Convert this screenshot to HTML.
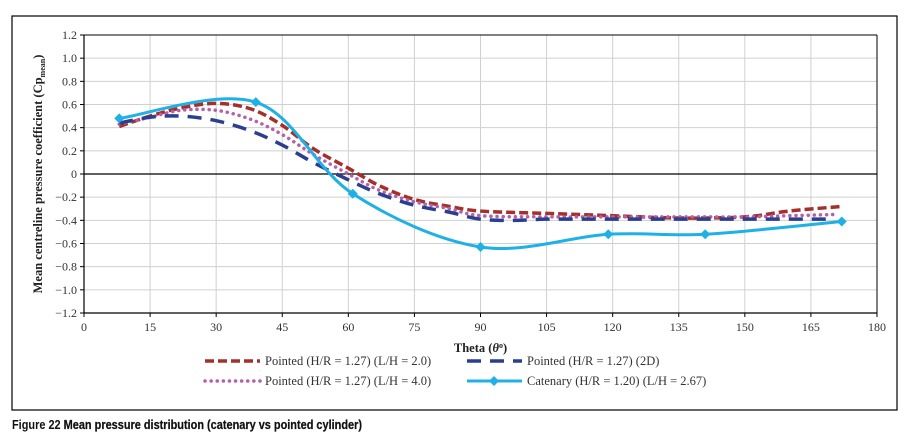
<!DOCTYPE html>
<html><head><meta charset="utf-8"><style>
body{margin:0;background:#fff;}
svg{display:block;font-family:"Liberation Serif",serif;}
</style></head><body>
<svg id="c" width="915" height="437"></svg>
<script>
const xTicks=[0,15,30,45,60,75,90,105,120,135,150,165,180];
const yTicks=[-1.2,-1.0,-0.8,-0.6,-0.4,-0.2,0,0.2,0.4,0.6,0.8,1.0,1.2];
const redTheta=[8,15,22,30,38,45,52,60,67,75,83,90,105,120,135,150,160,172];
const redCp=[0.41,0.5,0.57,0.61,0.56,0.42,0.22,0.05,-0.1,-0.22,-0.28,-0.32,-0.34,-0.36,-0.38,-0.37,-0.32,-0.28];
const blueTheta=[8,15,22,30,38,45,52,60,67,75,83,90,98,105,120,135,150,165,170];
const blueCp=[0.44,0.49,0.5,0.46,0.37,0.25,0.1,-0.05,-0.17,-0.27,-0.33,-0.39,-0.40,-0.39,-0.39,-0.39,-0.39,-0.39,-0.39];
const purpleTheta=[8,15,22,30,38,45,52,60,67,75,83,90,105,120,135,150,160,170];
const purpleCp=[0.43,0.49,0.55,0.55,0.47,0.34,0.17,0.0,-0.14,-0.24,-0.3,-0.36,-0.37,-0.37,-0.37,-0.37,-0.36,-0.35];
const catTheta=[8,39,61,90,119,141,172];
const catCp=[0.48,0.62,-0.17,-0.63,-0.52,-0.52,-0.41];

const NS='http://www.w3.org/2000/svg';
const svg=document.getElementById('c');
const L=84,R=877,T=35,B=313;
const X=v=>L+(v-0)/(180)*(R-L);
const Y=v=>B-(v+1.2)/2.4*(B-T);
function mk(t,a,p){const e=document.createElementNS(NS,t);for(const k in a)e.setAttribute(k,a[k]);(p||svg).appendChild(e);return e;}
function smooth(xs,ys){const P=xs.map((x,i)=>[X(x),Y(ys[i])]);let d='M'+P[0][0]+','+P[0][1];
for(let i=0;i<P.length-1;i++){const p0=P[Math.max(0,i-1)],p1=P[i],p2=P[i+1],p3=P[Math.min(P.length-1,i+2)];
const c1=[p1[0]+(p2[0]-p0[0])/6,p1[1]+(p2[1]-p0[1])/6],c2=[p2[0]-(p3[0]-p1[0])/6,p2[1]-(p3[1]-p1[1])/6];
d+=' C'+c1[0]+','+c1[1]+' '+c2[0]+','+c2[1]+' '+p2[0]+','+p2[1];}return d;}

let e=mk('rect',{x:12,y:16,width:885,height:394,fill:'none',stroke:'#000','stroke-width':1.2});


xTicks.forEach(t=>{if(t>0){const g=mk('line',{x1:X(t),x2:X(t),y1:T,y2:B,stroke:'#d0d0d0','stroke-width':1});}
const k=mk('line',{x1:X(t),x2:X(t),y1:B,y2:B+4,stroke:'#000'});
const tx=mk('text',{x:X(t),y:B+18,'text-anchor':'middle','font-size':12,fill:'#333'});tx.textContent=t;});
yTicks.forEach(t=>{if(t!==-1.2&&t!==0){const g=mk('line',{x1:L,x2:R,y1:Y(t),y2:Y(t),stroke:'#d0d0d0','stroke-width':1});}
const k=mk('line',{x1:L-4,x2:L,y1:Y(t),y2:Y(t),stroke:'#000'});
const tx=mk('text',{x:L-7,y:Y(t)+4,'text-anchor':'end','font-size':12,fill:'#333'});tx.textContent=t===0?'0':(t<0?'\u2212':'')+Math.abs(t).toFixed(1);});
e=mk('line',{x1:L,x2:R,y1:T,y2:T,stroke:'#000'});
e=mk('line',{x1:R,x2:R,y1:T,y2:B,stroke:'#000'});
e=mk('line',{x1:L,x2:R,y1:Y(0),y2:Y(0),stroke:'#000','stroke-width':1.2});
e=mk('line',{x1:L,x2:L,y1:T,y2:B,stroke:'#000','stroke-width':1.2});
e=mk('line',{x1:L,x2:R,y1:B,y2:B,stroke:'#000','stroke-width':1.2});

const styles={red:{c:'#a3302b',d:'9,4',w:3.5,cap:'butt'},blue:{c:'#2a3f8f',d:'14,9',w:3.5,cap:'butt'},purple:{c:'#b560a8',d:'0.1,6',w:3.5,cap:'round'},cat:{c:'#1fb0e6',d:'',w:3,cap:'butt'}};
function series(xs,ys,s,name){const p=mk('path',{d:smooth(xs,ys),fill:'none',stroke:s.c,'stroke-width':s.w,'stroke-dasharray':s.d,'stroke-linecap':s.cap});
}
series(redTheta,redCp,styles.red,'series-pointed-lh2');
series(purpleTheta,purpleCp,styles.purple,'series-pointed-lh4');
series(blueTheta,blueCp,styles.blue,'series-pointed-2d');
series(catTheta,catCp,styles.cat,'series-catenary');
catTheta.forEach((t,i)=>{const x=X(t),y=Y(catCp[i]);const m=mk('polygon',{points:`${x},${y-5} ${x+5},${y} ${x},${y+5} ${x-5},${y}`,fill:styles.cat.c});
});

e=mk('text',{x:(L+R)/2,y:352,'text-anchor':'middle','font-size':12.5,'font-weight':'bold',fill:'#222'});e.innerHTML='Theta (<tspan font-style="italic">θ</tspan><tspan font-size="8" dy="-4">o</tspan><tspan dy="4">)</tspan>';

e=mk('text',{transform:'translate(42,174) rotate(-90)','text-anchor':'middle','font-size':12.5,'font-weight':'bold',fill:'#222'});e.innerHTML='Mean centreline pressure coefficient (Cp<tspan font-size="8" dy="3">mean</tspan><tspan dy="-3">)</tspan>';


const leg=[[205,365,styles.red,'Pointed (H/R = 1.27) (L/H = 2.0)'],[467,365,styles.blue,'Pointed (H/R = 1.27) (2D)'],[205,385,styles.purple,'Pointed (H/R = 1.27) (L/H = 4.0)'],[467,385,styles.cat,'Catenary (H/R = 1.20) (L/H = 2.67)']];
leg.forEach((l,i)=>{const g=mk('g',{});
mk('line',{x1:l[0],x2:l[0]+55,y1:l[1]-4,y2:l[1]-4,stroke:l[2].c,'stroke-width':l[2].w,'stroke-dasharray':l[2].d,'stroke-linecap':l[2].cap},g);
if(i===3){const x=l[0]+27,y=l[1]-4;mk('polygon',{points:`${x},${y-5} ${x+5},${y} ${x},${y+5} ${x-5},${y}`,fill:l[2].c},g);}
const t=mk('text',{x:l[0]+60,y:l[1],'font-size':12.5,fill:'#333'},g);t.textContent=l[3];});

e=mk('text',{x:12,y:429,'font-size':13,'font-family':'"Liberation Sans",sans-serif',fill:'#111',textLength:350,lengthAdjust:'spacingAndGlyphs'});e.innerHTML='<tspan font-weight="bold">Figure 22</tspan><tspan style="font-weight:600;stroke:#111;stroke-width:0.25"> Mean pressure distribution (catenary vs pointed cylinder)</tspan>';

</script></body></html>
